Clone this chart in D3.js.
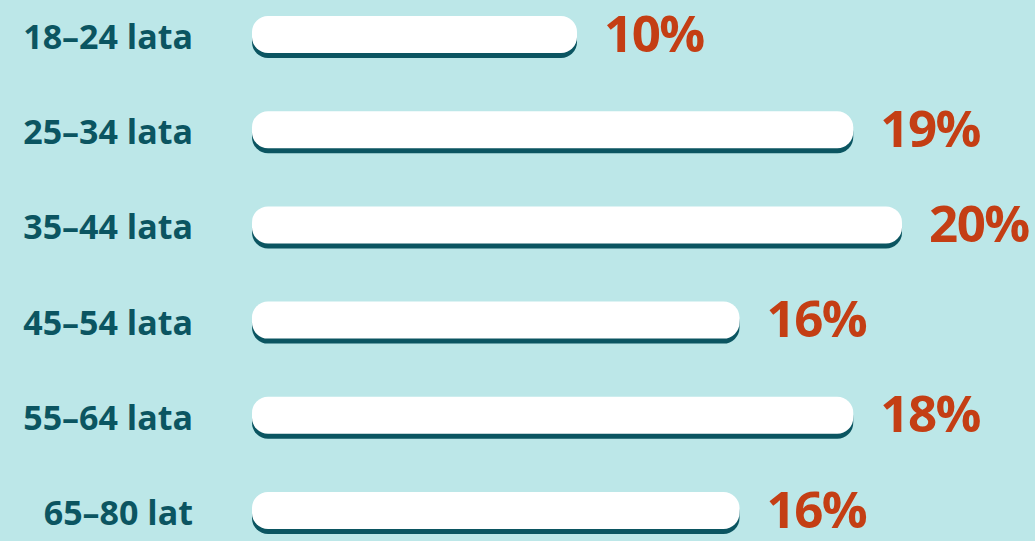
<!DOCTYPE html>
<html>
<head>
<meta charset="utf-8">
<script src="https://cdn.jsdelivr.net/npm/d3@7"></script>
<style>
  html, body { margin: 0; padding: 0; background: #bce7e8; }
  svg { display: block; }
</style>
</head>
<body>
<div id="chart"></div>
<script>
const ageGroups = ["18–24 lata", "25–34 lata", "35–44 lata", "45–54 lata", "55–64 lata", "65–80 lat"];
// printed shares
const shares = [10, 19, 20, 16, 18, 16];
// bar lengths as drawn in the picture
const barValues = [10, 18.5, 20, 15, 18.5, 15];

const width = 1035,
  height = 541;

const svg = d3
  .select("#chart")
  .append("svg")
  .attr("width", width)
  .attr("height", height);

svg.append("rect")
  .attr("width", width)
  .attr("height", height)
  .attr("fill", "#bce7e8");

const x = d3.scaleLinear().domain([0, 20]).range([252, 902]);

const y = d3.scalePoint().domain(ageGroups).range([34.5, 510.5]);

const barH = 37;

const rows = svg
  .selectAll(".row")
  .data(ageGroups)
  .enter()
  .append("g")
  .attr("class", "row")
  .attr("transform", (d) => "translate(0," + y(d) + ")");

// shadow
rows
  .append("rect")
  .attr("x", x(0))
  .attr("y", -barH / 2 + 5)
  .attr("width", (d, i) => x(barValues[i]) - x(0))
  .attr("height", barH)
  .attr("rx", 16)
  .attr("fill", "#0b5561");

rows
  .append("rect")
  .attr("x", x(0))
  .attr("y", -barH / 2)
  .attr("width", (d, i) => x(barValues[i]) - x(0))
  .attr("height", barH)
  .attr("rx", 16)
  .attr("fill", "#ffffff");

rows
  .append("text")
  .attr("x", 193)
  .attr("y", 14.5)
  .attr("text-anchor", "end")
  .style("font-family", "'Open Sans', sans-serif")
  .style("font-weight", "700")
  .style("font-size", "34px")
  .style("fill", "#0b5561")
  .text((d) => d);

rows
  .append("text")
  .attr("x", (d, i) => x(barValues[i]) + 27)
  .attr("y", 17)
  .style("font-family", "'Open Sans', sans-serif")
  .style("font-weight", "700")
  .style("font-size", "51px")
  .style("letter-spacing", "-1.5px")
  .style("fill", "#c43e14")
  .text((d, i) => shares[i] + "%");
</script>
</body>
</html>
